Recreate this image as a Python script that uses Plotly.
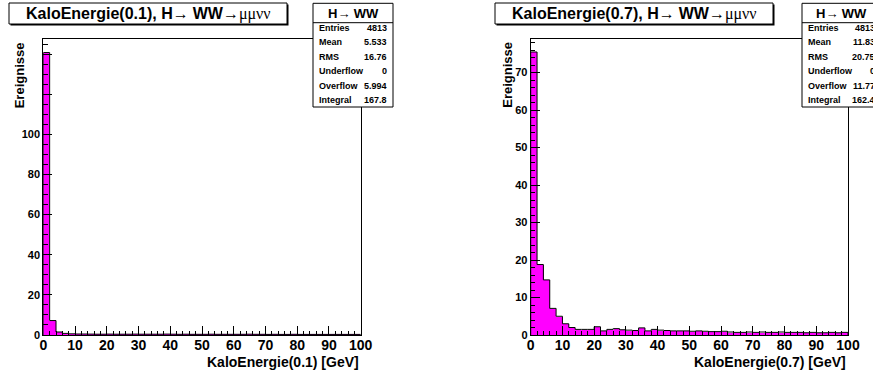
import numpy as np
import plotly.graph_objects as go

W, H = 873, 377

bin_edges = list(range(0, 101, 2))
left_counts = [140.8, 7.2, 1.5, 0.8, 0.6, 0.5, 0.5, 0.45, 0.4, 0.4,
               0.45, 0.4, 0.4, 0.4, 0.45, 0.4, 0.4, 0.4, 0.4, 0.45,
               0.4, 0.35, 0.4, 0.35, 0.35, 0.35, 0.4, 0.35, 0.35, 0.35,
               0.35, 0.35, 0.4, 0.35, 0.35, 0.3, 0.35, 0.3, 0.3, 0.35,
               0.3, 0.3, 0.3, 0.3, 0.3, 0.3, 0.3, 0.3, 0.3, 0.3]
right_counts = [75.5, 18.8, 14.7, 7.1, 5.0, 3.0, 2.0, 1.5, 1.5, 1.5,
                2.2, 1.1, 1.5, 1.7, 1.4, 1.3, 1.2, 1.9, 1.1, 1.5,
                1.3, 1.2, 1.1, 1.1, 1.1, 1.0, 1.1, 1.0, 0.9, 0.9,
                1.0, 0.8, 0.7, 0.7, 0.8, 0.7, 0.8, 0.7, 0.7, 0.8,
                0.7, 0.7, 0.7, 0.6, 0.7, 0.6, 0.6, 0.7, 0.6, 0.7]

x_ticks = [0, 10, 20, 30, 40, 50, 60, 70, 80, 90, 100]
left_yticks = [0, 20, 40, 60, 80, 100, 120, 140]
left_ytext = ["0", "20", "40", "60", "80", "100", "", ""]
right_yticks = [0, 10, 20, 30, 40, 50, 60, 70]

panels = [
    dict(counts=left_counts, name="KaloEnergie(0.1)", ymax=147.8, yticks=left_yticks,
         ytext=left_ytext, yminor=5,
         stats=[("Entries", "4813"), ("Mean", "5.533"), ("RMS", "16.76"),
                ("Underflow", "0"), ("Overflow", "5.994"), ("Integral", "167.8")],
         frame=(43.3, 360.7), title_box=(9, 287), stats_box=(313, 393)),
    dict(counts=right_counts, name="KaloEnergie(0.7)", ymax=79.1, yticks=right_yticks,
         ytext=[str(v) for v in right_yticks], yminor=2,
         stats=[("Entries", "4813"), ("Mean", "11.83"), ("RMS", "20.75"),
                ("Underflow", "0"), ("Overflow", "11.77"), ("Integral", "162.4")],
         frame=(530.7, 848.0), title_box=(495, 773), stats_box=(802, 881)),
]

MAG = "#ff00ff"
FONT = "Liberation Sans"
SERIF = "Liberation Serif"

def px(x):
    return x / W

def py(y):
    return 1 - y / H

fig = go.Figure()
shapes = []
annotations = []
frame_top, frame_bot = 38.5, 335.0

for i, p in enumerate(panels):
    sfx = "" if i == 0 else str(i + 1)
    xa, ya = "x" + sfx, "y" + sfx
    centers = [(bin_edges[k] + bin_edges[k + 1]) / 2 for k in range(len(p["counts"]))]
    fig.add_trace(go.Bar(x=centers, y=p["counts"], width=2, marker=dict(color=MAG, line=dict(width=0)),
                         xaxis=xa, yaxis=ya, showlegend=False, hoverinfo="skip"))
    sx = [bin_edges[0]] + bin_edges[:-1] + [bin_edges[-1], bin_edges[-1]]
    sy = [0] + p["counts"] + [p["counts"][-1], 0]
    fig.add_trace(go.Scatter(x=sx, y=sy, mode="lines", line=dict(color="black", width=1, shape="hv"),
                             xaxis=xa, yaxis=ya, showlegend=False, hoverinfo="skip"))
    x0, x1 = p["frame"]
    fig.layout["xaxis" + sfx] = dict(
        domain=[px(x0), px(x1)], range=[0, 100], anchor=ya, automargin=False,
        tickmode="array", tickvals=x_ticks, ticks="inside", ticklen=9, tickcolor="black",
        ticklabelstandoff=-3,
        minor=dict(dtick=2, tick0=0, ticks="inside", ticklen=4.5, tickcolor="black"),
        showline=True, mirror=True, linecolor="black", linewidth=1, showgrid=False, zeroline=False,
        tickfont=dict(family=FONT, size=14, color="black", weight="bold"), fixedrange=True)
    fig.layout["yaxis" + sfx] = dict(
        domain=[py(frame_bot), py(frame_top)], range=[0, p["ymax"]], anchor=xa, automargin=False,
        tickmode="array", tickvals=p["yticks"], ticktext=p["ytext"], ticks="inside", ticklen=9,
        tickcolor="black",
        minor=dict(dtick=p["yminor"], tick0=0, ticks="inside", ticklen=4.5, tickcolor="black"),
        showline=True, mirror=True, linecolor="black", linewidth=1, showgrid=False, zeroline=False,
        tickfont=dict(family=FONT, size=11, color="black", weight="bold"), fixedrange=True)

    # axis titles
    annotations.append(dict(x=px(x1), y=py(362), xref="paper", yref="paper", xanchor="right",
                            yanchor="middle", showarrow=False,
                            text="<b>" + p["name"] + " [GeV]</b>",
                            font=dict(family=FONT, size=14, color="black")))
    annotations.append(dict(x=px(x0 - 23), y=py(75), xref="paper", yref="paper", xanchor="center",
                            yanchor="middle", showarrow=False, textangle=-90,
                            text="<b>Ereignisse</b>", font=dict(family=FONT, size=13, color="black")))

    # title box
    tb0, tb1 = p["title_box"]
    shapes.append(dict(type="rect", xref="paper", yref="paper", x0=px(tb0 + 1.5), x1=px(tb1 + 1.5),
                       y0=py(25.5), y1=py(4.5), fillcolor="black", line=dict(width=0), layer="above"))
    shapes.append(dict(type="rect", xref="paper", yref="paper", x0=px(tb0), x1=px(tb1),
                       y0=py(24), y1=py(3), fillcolor="white", line=dict(color="black", width=1),
                       layer="above"))
    title_txt = ("<b>" + p["name"] + ", H</b><span style='font-family:" + SERIF + "'>\u2192 </span>"
                 "<b>WW</b><span style='font-family:" + SERIF + "'>\u2192\u03bc\u03bc\u03bd\u03bd</span>")
    annotations.append(dict(x=px((tb0 + tb1) / 2), y=py(14), xref="paper", yref="paper",
                            xanchor="center", yanchor="middle", showarrow=False, text=title_txt,
                            font=dict(family=FONT, size=16, color="black")))

    # stats box
    sb0, sb1 = p["stats_box"]
    shapes.append(dict(type="rect", xref="paper", yref="paper", x0=px(sb0), x1=px(sb1),
                       y0=py(107), y1=py(3.3), fillcolor="white", line=dict(color="black", width=1),
                       layer="above"))
    shapes.append(dict(type="line", xref="paper", yref="paper", x0=px(sb0), x1=px(sb1),
                       y0=py(22.7), y1=py(22.7), line=dict(color="black", width=1), layer="above"))
    annotations.append(dict(x=px((sb0 + sb1) / 2), y=py(13.5), xref="paper", yref="paper",
                            xanchor="center", yanchor="middle", showarrow=False,
                            text="<b>H</b><span style='font-family:" + SERIF + "'>\u2192 </span><b>WW</b>",
                            font=dict(family=FONT, size=13, color="black")))
    row_y = [28.3, 42.3, 57.3, 71, 86, 100]
    for (lab, val), ry in zip(p["stats"], row_y):
        annotations.append(dict(x=px(sb0 + 4), y=py(ry), xref="paper", yref="paper", xanchor="left",
                                yanchor="middle", showarrow=False, text="<b>" + lab + "</b>",
                                font=dict(family=FONT, size=9, color="black")))
        annotations.append(dict(x=px(sb1 - 4), y=py(ry), xref="paper", yref="paper", xanchor="right",
                                yanchor="middle", showarrow=False, text="<b>" + val + "</b>",
                                font=dict(family=FONT, size=9, color="black")))

fig.update_layout(width=W, height=H, margin=dict(l=0, r=0, t=0, b=0, pad=0), autosize=False,
                  paper_bgcolor="white", plot_bgcolor="white", bargap=0,
                  shapes=shapes, annotations=annotations,
                  font=dict(family=FONT, color="black"))
fig.write_html("out.html", config={"displayModeBar": False})
